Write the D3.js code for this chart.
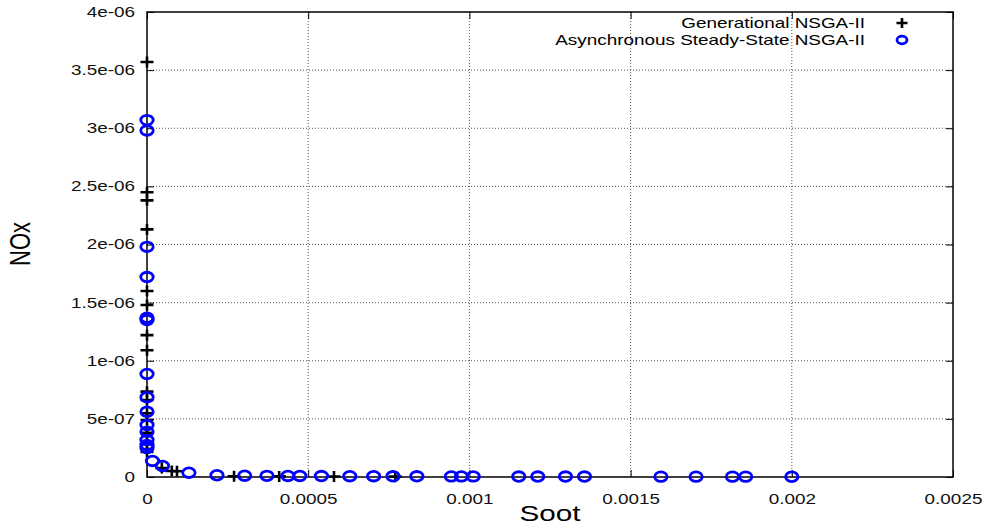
<!DOCTYPE html>
<html>
<head>
<meta charset="utf-8">
<script src="https://cdn.jsdelivr.net/npm/d3@7"></script>
<style>
  html, body { margin: 0; padding: 0; background: #fff; }
  svg { display: block; font-family: "Liberation Sans", Arial, Helvetica, sans-serif; }
</style>
</head>
<body>
<svg id="chart" width="988" height="526"></svg>
<script>
// Pareto fronts: Soot (x) vs NOx (y)
const genSoot = [0, 0, 0, 0, 0, 0, 0, 0, 0, 0, 0, 0, 0, 0, 0,
  4.6e-5, 7.7e-5, 9.3e-5, 2.7e-4, 4.1e-4, 5.8e-4, 7.7e-4];
const genNOx = [3.57e-6, 2.45e-6, 2.38e-6, 2.13e-6, 1.60e-6, 1.48e-6, 1.22e-6, 1.09e-6,
  0.734e-6, 0.663e-6, 0.548e-6, 0.49e-6, 0.38e-6, 0.29e-6, 0.215e-6,
  0.077e-6, 0.052e-6, 0.05e-6, 0.006e-6, 0.005e-6, 0.004e-6, 0.003e-6];

const asyncSoot = [0, 0, 0, 0, 0, 0, 0, 0, 0, 0, 0, 0, 0, 0,
  1.7e-5, 4.8e-5, 1.3e-4, 2.17e-4,
  3.03e-4, 3.72e-4, 4.37e-4, 4.74e-4, 5.41e-4, 6.29e-4, 7.03e-4, 7.63e-4, 8.37e-4,
  9.44e-4, 9.75e-4, 1.012e-3, 1.153e-3, 1.212e-3, 1.298e-3, 1.357e-3,
  1.594e-3, 1.703e-3, 1.816e-3, 1.857e-3, 2.0e-3];
const asyncNOx = [3.07e-6, 2.98e-6, 1.98e-6, 1.72e-6, 1.37e-6, 1.35e-6, 0.886e-6, 0.686e-6,
  0.562e-6, 0.447e-6, 0.39e-6, 0.318e-6, 0.275e-6, 0.25e-6,
  0.138e-6, 0.095e-6, 0.037e-6, 0.015e-6,
  0.011e-6, 0.010e-6, 0.009e-6, 0.009e-6, 0.008e-6, 0.007e-6, 0.007e-6, 0.006e-6, 0.006e-6,
  0.005e-6, 0.005e-6, 0.005e-6, 0.004e-6, 0.004e-6, 0.004e-6, 0.004e-6,
  0.003e-6, 0.003e-6, 0.003e-6, 0.003e-6, 0.002e-6];

const xTicks = [0, 0.0005, 0.001, 0.0015, 0.002, 0.0025];
const xTickLabels = ["0", "0.0005", "0.001", "0.0015", "0.002", "0.0025"];
const yTicks = [0, 5e-7, 1e-6, 1.5e-6, 2e-6, 2.5e-6, 3e-6, 3.5e-6, 4e-6];
const yTickLabels = ["0", "5e-07", "1e-06", "1.5e-06", "2e-06", "2.5e-06", "3e-06", "3.5e-06", "4e-06"];

const seriesNames = ["Generational NSGA-II", "Asynchronous Steady-State NSGA-II"];

const svg = d3.select("#chart");
const plotLeft = 147, plotRight = 953, plotTop = 12, plotBottom = 477;
const stretch = 1.35; // horizontal widening of glyphs and markers

const x = d3.scaleLinear().domain([0, 0.0025]).range([plotLeft, plotRight]);
const y = d3.scaleLinear().domain([0, 4e-6]).range([plotBottom, plotTop]);

// grid lines (dotted)
const grid = svg.append("g");
grid.selectAll(".gx").data(xTicks.slice(1, -1)).enter().append("line")
  .attr("x1", d => x(d)).attr("x2", d => x(d))
  .attr("y1", plotTop).attr("y2", plotBottom)
  .attr("stroke", "#555").attr("stroke-width", 1).attr("stroke-dasharray", "1,2");
grid.selectAll(".gy").data(yTicks.slice(1, -1)).enter().append("line")
  .attr("x1", plotLeft).attr("x2", plotRight)
  .attr("y1", d => y(d)).attr("y2", d => y(d))
  .attr("stroke", "#555").attr("stroke-width", 1).attr("stroke-dasharray", "1,2");

// axes with inward ticks, mirrored on top and right
const tickLen = 7;
const xAxis = d3.axisBottom(x).tickValues(xTicks).tickSize(-tickLen).tickPadding(17)
  .tickFormat((d, i) => xTickLabels[i]);
const yAxis = d3.axisLeft(y).tickValues(yTicks).tickSize(-tickLen).tickPadding(12)
  .tickFormat((d, i) => yTickLabels[i]);

const gx = svg.append("g").attr("transform", `translate(0,${plotBottom})`).call(xAxis);
const gy = svg.append("g").attr("transform", `translate(${plotLeft},0)`).call(yAxis);
const gxTop = svg.append("g").attr("transform", `translate(0,${plotTop})`)
  .call(d3.axisTop(x).tickValues(xTicks).tickSize(-tickLen).tickFormat(""));
const gyRight = svg.append("g").attr("transform", `translate(${plotRight},0)`)
  .call(d3.axisRight(y).tickValues(yTicks).tickSize(-tickLen).tickFormat(""));

[gx, gy, gxTop, gyRight].forEach(g => {
  g.select(".domain").remove();
  g.selectAll(".tick line").attr("stroke", "#000").attr("stroke-width", 1);
  g.selectAll("text").attr("font-size", 14).attr("fill", "#111")
    .attr("font-family", "'Liberation Sans', Arial, sans-serif")
    .each(function () {
      const t = d3.select(this);
      const tx = +t.attr("x") || 0;
      t.attr("x", tx / stretch).attr("transform", `scale(${stretch},1)`);
    });
});

// frame
svg.append("rect").attr("x", plotLeft).attr("y", plotTop)
  .attr("width", plotRight - plotLeft).attr("height", plotBottom - plotTop)
  .attr("fill", "none").attr("stroke", "#000").attr("stroke-width", 1.5);

// axis titles
svg.append("text")
  .attr("transform", `translate(${(plotLeft + plotRight) / 2},521) scale(${stretch},1)`)
  .attr("text-anchor", "middle").attr("font-size", 22).attr("fill", "#000").text("Soot");
svg.append("text").attr("transform", `translate(30,244) scale(${stretch},1) rotate(-90)`)
  .attr("text-anchor", "middle").attr("font-size", 22).attr("fill", "#000").text("NOx");

// markers
const plusPath = "M-6.5,0H6.5M0,-5.5V5.5";
const genData = genSoot.map((s, i) => ({ s, n: genNOx[i] }));
const asyncData = asyncSoot.map((s, i) => ({ s, n: asyncNOx[i] }));

svg.append("g").selectAll("path").data(genData).enter().append("path")
  .attr("d", plusPath)
  .attr("transform", d => `translate(${x(d.s)},${y(d.n)})`)
  .attr("stroke", "#000").attr("stroke-width", 2.6).attr("fill", "none");

svg.append("g").selectAll("ellipse").data(asyncData).enter().append("ellipse")
  .attr("cx", d => x(d.s)).attr("cy", d => y(d.n)).attr("rx", 6.2).attr("ry", 4.8)
  .attr("stroke", "#0000ff").attr("stroke-width", 2.8).attr("fill", "none");

// legend
const legend = svg.append("g");
seriesNames.forEach((name, i) => {
  const ly = 23 + i * 17;
  legend.append("text").attr("transform", `translate(865,${ly + 5}) scale(${stretch},1)`)
    .attr("text-anchor", "end").attr("font-size", 14).attr("fill", "#000").text(name);
  if (i === 0) {
    legend.append("path").attr("d", "M-5.5,0H5.5M0,-5V5")
      .attr("transform", `translate(902,${ly})`)
      .attr("stroke", "#000").attr("stroke-width", 2.6).attr("fill", "none");
  } else {
    legend.append("ellipse").attr("cx", 902).attr("cy", ly).attr("rx", 5).attr("ry", 3.8)
      .attr("stroke", "#0000ff").attr("stroke-width", 2.8).attr("fill", "none");
  }
});
</script>
</body>
</html>
